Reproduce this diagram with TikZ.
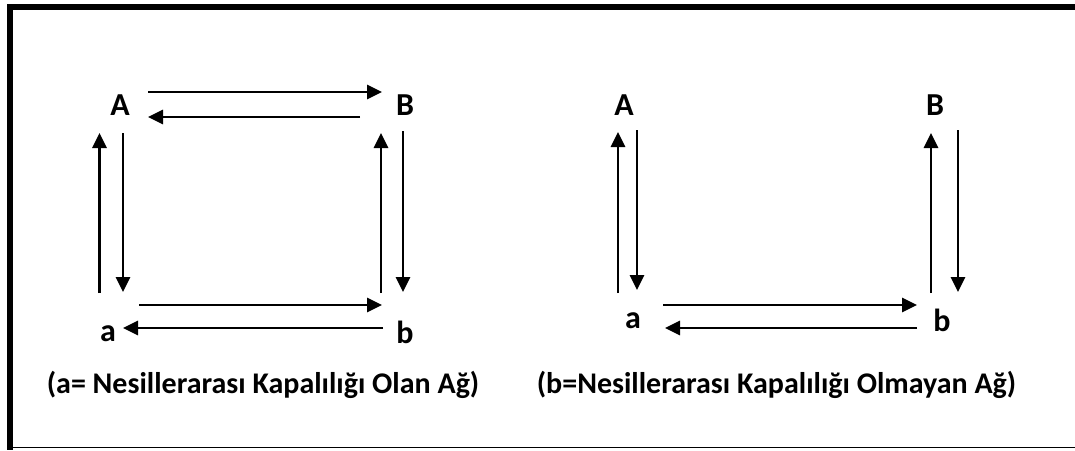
\documentclass[tikz,border=0pt]{standalone}
\usepackage{fontspec}
\setmainfont{Carlito}
\usetikzlibrary{arrows.meta}
\begin{document}
\begin{tikzpicture}[x=1pt,y=-1pt,
  lbl/.style={font=\bfseries\fontsize{32}{36}\selectfont, inner sep=0pt},
  captxt/.style={font=\bfseries\fontsize{30}{34}\selectfont, inner sep=0pt},
  arr/.style={line width=2.8pt, -{Triangle[length=15pt,width=14pt]}}]
\useasboundingbox (0,0) rectangle (1075,450);
% frame
\fill (7,4) rectangle (1075,10);
\fill (7,4) rectangle (13,450);
\fill (7,446.5) rectangle (1075,448);
% left network
\node[lbl] (A1) at (120,105) {A};
\node[lbl] (B1) at (405,105) {B};
\node[lbl] (a1) at (108,334) {a};
\node[lbl] (b1) at (405,332) {b};
\coordinate (p1) at (148,92);  \coordinate (p2) at (382,92);
\coordinate (p3) at (360,117); \coordinate (p4) at (148,117);
\coordinate (p5) at (99.5,293); \coordinate (p6) at (99.5,133);
\coordinate (p7) at (123,133); \coordinate (p8) at (123,292);
\coordinate (p9) at (381,293); \coordinate (p10) at (381,133);
\coordinate (p11) at (403,131); \coordinate (p12) at (403,292);
\coordinate (p13) at (139,305); \coordinate (p14) at (382,305);
\coordinate (p15) at (383,328); \coordinate (p16) at (123,328);
\draw[arr] (p1) -- (p2);
\draw[arr] (p3) -- (p4);
\draw[arr] (p5) -- (p6);
\draw[arr] (p7) -- (p8);
\draw[arr] (p9) -- (p10);
\draw[arr] (p11) -- (p12);
\draw[arr] (p13) -- (p14);
\draw[arr] (p15) -- (p16);
% right network
\node[lbl] (A2) at (624,105) {A};
\node[lbl] (B2) at (935,105) {B};
\node[lbl] (a2) at (633,321) {a};
\node[lbl] (b2) at (942,320) {b};
\coordinate (q1) at (618,293); \coordinate (q2) at (618,132);
\coordinate (q3) at (637,130); \coordinate (q4) at (637,290);
\coordinate (q5) at (931,293); \coordinate (q6) at (931,133);
\coordinate (q7) at (958,130); \coordinate (q8) at (958,292);
\coordinate (q9) at (663,305); \coordinate (q10) at (917,305);
\coordinate (q11) at (917,328); \coordinate (q12) at (665,328);
\draw[arr] (q1) -- (q2);
\draw[arr] (q3) -- (q4);
\draw[arr] (q5) -- (q6);
\draw[arr] (q7) -- (q8);
\draw[arr] (q9) -- (q10);
\draw[arr] (q11) -- (q12);
% captions
\node[captxt] (c1) at (263,385) {(a= Nesillerarası Kapalılığı Olan Ağ)};
\node[captxt] (c2) at (776.5,385) {(b=Nesillerarası Kapalılığı Olmayan Ağ)};
\end{tikzpicture}
\end{document}
